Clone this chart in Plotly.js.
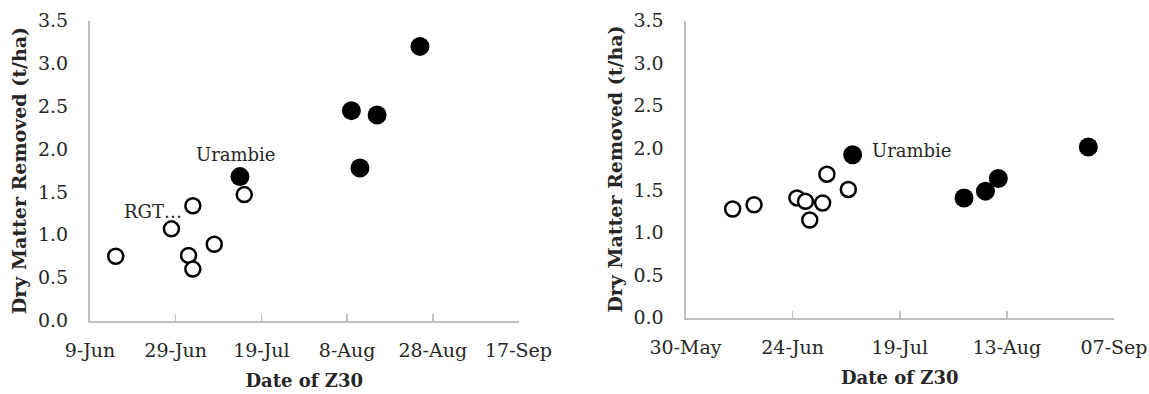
<!DOCTYPE html>
<html>
<head>
<meta charset="utf-8">
<script src="https://cdn.plot.ly/plotly-3.0.1.min.js"></script>
<style>html,body{margin:0;padding:0;background:#fff;}#chart{width:1149px;height:394px;}</style>
</head>
<body>
<div id="chart"></div>
<script>
// ---------- Left panel data ----------
const leftOpenDates  = ["2015-06-15","2015-06-28","2015-07-03","2015-07-02","2015-07-03","2015-07-08","2015-07-15"];
const leftOpenValues = [0.75, 1.07, 1.34, 0.76, 0.60, 0.89, 1.47];
const leftFilledDates  = ["2015-07-14","2015-08-09","2015-08-15","2015-08-11","2015-08-25"];
const leftFilledValues = [1.68, 2.45, 2.40, 1.78, 3.20];
const leftTickVals = ["2015-06-09","2015-06-29","2015-07-19","2015-08-08","2015-08-28","2015-09-17"];
const leftTickText = ["9-Jun","29-Jun","19-Jul","8-Aug","28-Aug","17-Sep"];

// ---------- Right panel data ----------
const rightOpenDates  = ["2015-06-10","2015-06-15","2015-06-25","2015-06-27","2015-06-28","2015-07-01","2015-07-02","2015-07-07"];
const rightOpenValues = [1.28, 1.33, 1.41, 1.37, 1.15, 1.35, 1.69, 1.51];
const rightFilledDates  = ["2015-07-08","2015-08-03","2015-08-08","2015-08-11","2015-09-01"];
const rightFilledValues = [1.92, 1.41, 1.49, 1.64, 2.01];
const rightTickVals = ["2015-05-30","2015-06-24","2015-07-19","2015-08-13","2015-09-07"];
const rightTickText = ["30-May","24-Jun","19-Jul","13-Aug","07-Sep"];

const yTickVals = [0, 0.5, 1.0, 1.5, 2.0, 2.5, 3.0, 3.5];
const yTickText = ["0.0","0.5","1.0","1.5","2.0","2.5","3.0","3.5"];

const yTitle = "Dry Matter Removed (t/ha)";
const xTitle = "Date of Z30";

const SERIF = "DejaVu Serif, Liberation Serif, serif";
const TXT = "#262626";
const AX = "#bfbfbf";

function openTrace(x, y, xa, ya) {
  return {x: x, y: y, xaxis: xa, yaxis: ya, type: "scatter", mode: "markers",
    marker: {symbol: "circle", size: 15, color: "#ffffff", line: {color: "#000000", width: 2.5}},
    showlegend: false, hoverinfo: "x+y"};
}
function filledTrace(x, y, xa, ya) {
  return {x: x, y: y, xaxis: xa, yaxis: ya, type: "scatter", mode: "markers",
    marker: {symbol: "circle", size: 19, color: "#000000", line: {width: 0}},
    showlegend: false, hoverinfo: "x+y"};
}

const data = [
  openTrace(leftOpenDates, leftOpenValues, "x", "y"),
  filledTrace(leftFilledDates, leftFilledValues, "x", "y"),
  openTrace(rightOpenDates, rightOpenValues, "x2", "y2"),
  filledTrace(rightFilledDates, rightFilledValues, "x2", "y2")
];

function xAxis(domain, range, tv, tt, anchor) {
  return {domain: domain, range: range, type: "date", anchor: anchor,
    tickmode: "array", tickvals: tv, ticktext: tt,
    ticks: "inside", ticklen: 7, tickwidth: 1.5, tickcolor: AX,
    showline: true, linecolor: AX, linewidth: 2, showgrid: false, zeroline: false,
    tickfont: {family: SERIF, size: 19, color: TXT}, ticklabelstandoff: 12,
    title: {text: xTitle, font: {family: SERIF, size: 18, color: TXT, weight: "bold"}, standoff: 14},
    fixedrange: true};
}
function yAxis(domain, anchor) {
  return {domain: domain, range: [0, 3.5], anchor: anchor,
    tickmode: "array", tickvals: yTickVals, ticktext: yTickText,
    ticks: "", showline: true, linecolor: AX, linewidth: 2, showgrid: false, zeroline: false,
    tickfont: {family: SERIF, size: 19, color: TXT}, ticklabelstandoff: 16,
    title: {text: yTitle, font: {family: SERIF, size: 19, color: TXT, weight: "bold"}, standoff: 6},
    fixedrange: true};
}

const annotations = [
  {xref: "x", yref: "y", x: leftFilledDates[0], y: leftFilledValues[0], text: "Urambie",
   showarrow: false, xshift: -4, yshift: 22, font: {family: SERIF, size: 18, color: TXT}},
  {xref: "x", yref: "y", x: leftOpenDates[1], y: leftOpenValues[1], text: "RGT…",
   showarrow: false, xshift: -18, yshift: 17, font: {family: SERIF, size: 18, color: TXT}},
  {xref: "x2", yref: "y2", x: rightFilledDates[0], y: rightFilledValues[0], text: "Urambie",
   showarrow: false, xanchor: "left", xshift: 17, yshift: 4, font: {family: SERIF, size: 18, color: TXT}}
];

const layout = {
  width: 1149, height: 394,
  margin: {l: 0, r: 0, t: 0, b: 0},
  paper_bgcolor: "#ffffff", plot_bgcolor: "#ffffff",
  showlegend: false,
  xaxis: xAxis([90/1149, 518.5/1149], ["2015-06-09", "2015-09-17"], leftTickVals, leftTickText, "y"),
  yaxis: yAxis([(394-320.5)/394, (394-20.7)/394], "x"),
  xaxis2: xAxis([685.5/1149, 1114/1149], ["2015-05-30", "2015-09-07"], rightTickVals, rightTickText, "y2"),
  yaxis2: yAxis([(394-317.5)/394, (394-20.7)/394], "x2"),
  annotations: annotations
};

Plotly.newPlot("chart", data, layout, {displayModeBar: false, staticPlot: true});
</script>
</body>
</html>
